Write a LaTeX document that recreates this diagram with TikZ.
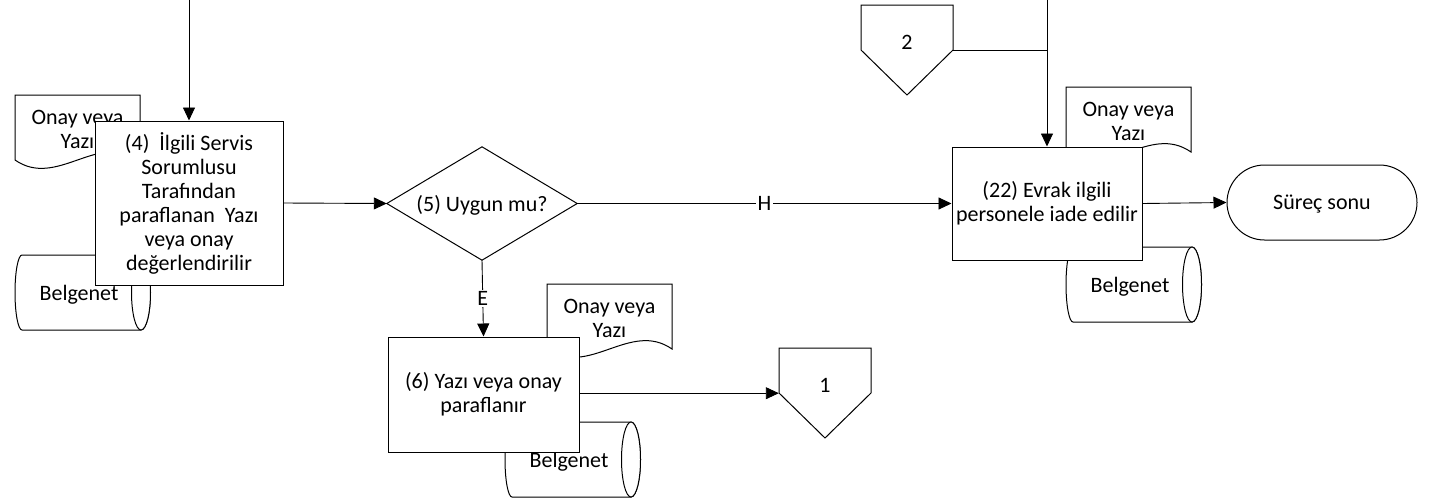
\documentclass[tikz,border=0pt]{standalone}
\usepackage{fontspec}
\setmainfont{Carlito}
\usetikzlibrary{arrows.meta}
\newcommand\mydocshape[4]{%
  \filldraw[shp] (#1,#2) -- ({#1+125},#2) -- ({#1+125},{#2+65})
    .. controls ({#1+83.3},{#2+36}) and ({#1+41.7},{#2+94}) .. (#1,{#2+65}) -- cycle;
  \node[txt] (#3) at ({#1+62.5},{#2+34}) {#4};
}
\newcommand\mycylshape[3]{%
  \filldraw[shp] ({#1+7},#2) -- ({#1+126},#2)
    arc[start angle=90,end angle=-90,x radius=9.5pt,y radius=37.5pt]
    -- ({#1+7},{#2+75})
    arc[start angle=270,end angle=90,x radius=7pt,y radius=37.5pt] -- cycle;
  \draw[shp] ({#1+126},{#2+37.5}) ellipse[x radius=9.5pt,y radius=37.5pt];
  \node[txt,text depth=0pt] (#3) at ({#1+64},{#2+38}) {Belgenet};
}
\newcommand\myoffpage[4]{%
  \filldraw[shp] (#1,#2) -- ({#1+92},#2) -- ({#1+92},{#2+45}) -- ({#1+46},{#2+90}) -- (#1,{#2+45}) -- cycle;
  \node[helper,minimum width=92pt,minimum height=45pt] (#3) at ({#1+46},{#2+22.5}) {};
  \node[txt,text depth=0pt] (#3t) at ({#1+46},{#2+37}) {#4};
}
\begin{document}
\begin{tikzpicture}[x=1pt,y=-1pt,
  shp/.style={draw=black,fill=white,line width=1pt},
  txt/.style={font=\fontsize{22}{24}\selectfont,align=center,inner sep=0pt},
  helper/.style={draw=none,inner sep=0pt,rectangle},
  proc/.style={draw=black,fill=white,line width=1pt,rectangle,inner sep=0pt,align=center,font=\fontsize{22}{24}\selectfont},
  term/.style={draw=black,fill=white,line width=1pt,rectangle,rounded corners=37.5pt,inner sep=0pt,text depth=0pt,font=\fontsize{22}{24}\selectfont},
  conn/.style={draw=black,line width=0.9pt},
  arr/.style={conn,-{Triangle[length=13pt,width=12pt]}},
  lbl/.style={fill=white,inner sep=1.5pt,text depth=0pt,font=\fontsize{22}{24}\selectfont}]
\useasboundingbox (0,0) rectangle (1432,501);
% decorations behind the boxes
\mydocshape{15}{95}{d4}{Onay veya\\Yazı}
\mycylshape{15}{255}{c4}
\mydocshape{547}{284}{d6}{Onay veya\\Yazı}
\mycylshape{505}{422}{c6}
\mydocshape{1066}{87}{d22}{Onay veya\\Yazı}
\mycylshape{1066}{247}{c22}
\myoffpage{779}{348}{op1}{1}
\myoffpage{861}{5}{op2}{2}
% main nodes
\node[proc,minimum width=188pt,minimum height=164pt] (b4) at (189,203)
  {(4)\ \ İlgili Servis\\Sorumlusu\\Tarafından\\paraflanan\ \ Yazı\\veya onay\\değerlendirilir};
\node[helper,minimum width=190pt,minimum height=113pt] (d5) at (482,203.5) {};
\filldraw[shp] (d5.north) -- (d5.east) -- (d5.south) -- (d5.west) -- cycle;
\node[txt,text depth=0pt] (d5t) at (d5.center) {(5) Uygun mu?};
\node[proc,minimum width=191pt,minimum height=115pt] (b6) at (483.5,394.5) {(6) Yazı veya onay\\paraflanır};
\node[proc,minimum width=190pt,minimum height=113pt] (b22) at (1047,203.5) {(22) Evrak ilgili\\personele iade edilir};
\node[term,minimum width=190pt,minimum height=75pt] (t) at (1322,202.5) {Süreç sonu};
% connectors
\coordinate (in4) at (189,0);
\coordinate (in22) at (1047,0);
\draw[arr] (in4) -- (b4.north);
\draw[arr] (b4.east) -- (d5.west);
\draw[arr] (d5.east) -- node[lbl] (lh) {H} (b22.west);
\draw[arr] (d5.south) -- node[lbl] (le) {E} (b6.north);
\draw[arr] (b6.east |- op1.south west) -- (op1.south west);
\draw[arr] (in22) -- (b22.north);
\draw[conn] (op2.south east) -- (op2.south east -| b22.north);
\draw[arr] (b22.east) -- (t.west);
\end{tikzpicture}
\end{document}
